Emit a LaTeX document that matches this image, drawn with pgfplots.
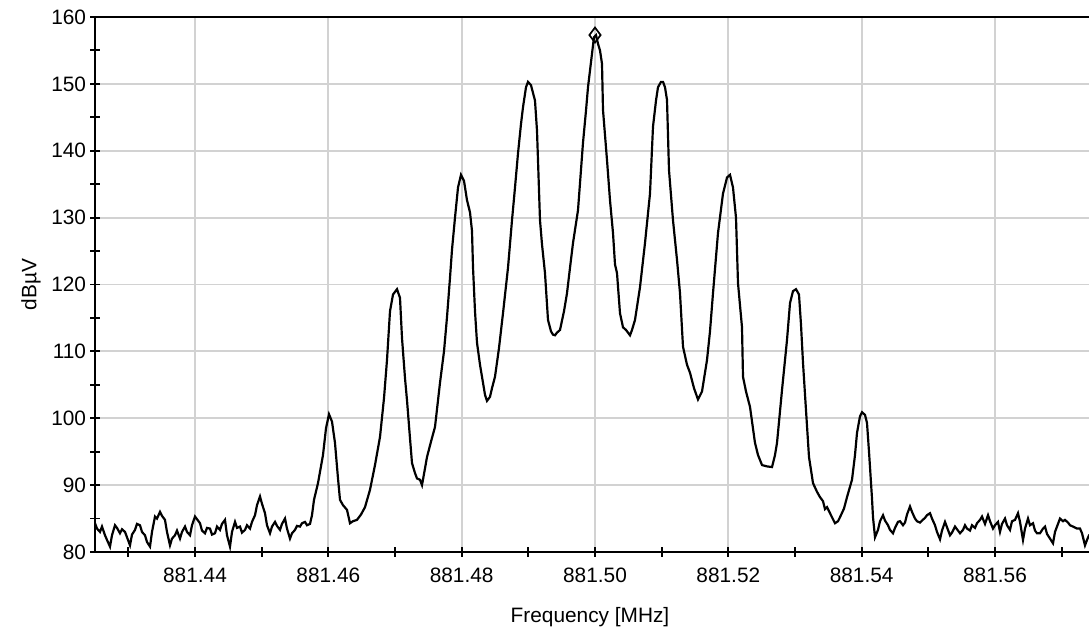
\documentclass[border=0pt]{standalone}
\usepackage{fontspec}
\setmainfont{Liberation Sans}
\usepackage{pgfplots}
\usepackage{pgfplotstable}
\pgfplotsset{compat=1.18}

% Spectrum trace: offset from 881.50 MHz in kHz, level in dBuV
\pgfplotstableread{
x y
-75.00 84.3
-74.70 83.5
-74.25 83.0
-73.95 83.8
-73.50 82.5
-73.20 81.8
-72.75 80.8
-72.45 82.5
-72.00 84.0
-71.70 83.6
-71.25 82.8
-70.95 83.4
-70.50 83.0
-70.20 82.2
-69.75 81.0
-69.45 82.6
-69.00 83.3
-68.70 84.2
-68.25 84.0
-67.95 83.0
-67.50 82.5
-67.20 81.5
-66.75 80.8
-66.45 83.0
-66.00 85.3
-65.70 85.0
-65.25 86.0
-64.95 85.4
-64.50 84.8
-64.20 83.0
-63.75 81.0
-63.45 82.0
-63.00 82.5
-62.70 83.2
-62.25 82.0
-61.95 83.0
-61.50 83.8
-61.20 83.0
-60.75 82.5
-60.45 84.0
-60.00 85.3
-59.70 84.9
-59.25 84.3
-58.95 83.2
-58.50 82.8
-58.20 83.6
-57.75 83.5
-57.45 82.6
-57.00 82.8
-56.70 83.8
-56.25 83.3
-55.95 84.2
-55.50 84.8
-55.20 82.5
-54.75 80.8
-54.45 83.0
-54.00 84.5
-53.70 83.6
-53.25 83.8
-52.95 82.9
-52.50 83.3
-52.20 84.0
-51.75 83.5
-51.45 84.5
-51.00 85.5
-50.70 87.0
-50.25 88.3
-49.95 87.2
-49.50 85.8
-49.20 84.0
-48.75 82.8
-48.45 83.8
-48.00 84.5
-47.70 83.9
-47.25 83.3
-46.95 84.2
-46.50 85.0
-46.20 83.5
-45.75 82.0
-45.45 82.8
-45.00 83.3
-44.70 83.9
-44.25 83.8
-43.95 84.3
-43.50 84.5
-43.20 84.0
-42.75 84.2
-42.45 85.5
-42.15 87.8
-41.55 90.3
-40.80 94.5
-40.35 98.5
-39.90 100.6
-39.45 99.5
-39.00 96.3
-38.55 91.0
-38.25 87.8
-37.80 87.0
-37.20 86.3
-36.75 84.3
-36.30 84.6
-35.70 84.8
-35.10 85.6
-34.50 86.7
-33.75 89.3
-33.00 93.0
-32.25 97.2
-31.65 103.0
-31.20 108.7
-30.75 116.0
-30.30 118.5
-29.70 119.3
-29.25 118.0
-28.95 112.0
-28.50 106.0
-28.20 102.7
-27.75 97.0
-27.45 93.3
-27.00 91.8
-26.70 91.0
-26.25 90.8
-25.95 90.0
-25.50 92.5
-25.20 94.2
-24.60 96.5
-24.00 98.7
-23.25 105.3
-22.65 110.0
-22.20 115.1
-21.75 121.0
-21.45 125.2
-21.00 130.0
-20.55 134.5
-20.10 136.4
-19.65 135.5
-19.20 132.6
-18.75 130.8
-18.45 128.0
-18.30 122.6
-18.00 116.0
-17.70 111.3
-17.25 108.0
-16.95 106.2
-16.50 103.5
-16.20 102.6
-15.75 103.2
-15.45 104.5
-15.00 106.2
-14.40 110.5
-13.80 115.7
-13.05 122.5
-12.45 129.6
-12.00 134.5
-11.55 139.6
-11.10 144.0
-10.80 146.5
-10.35 149.5
-10.05 150.3
-9.60 149.8
-9.00 147.5
-8.70 143.0
-8.55 138.6
-8.25 129.6
-7.95 126.0
-7.50 121.7
-7.05 114.7
-6.60 113.0
-6.30 112.5
-6.00 112.4
-5.70 112.8
-5.25 113.2
-4.65 116.0
-4.20 118.7
-3.75 122.5
-3.30 126.2
-2.55 131.1
-1.80 141.2
-1.35 146.0
-1.05 149.5
-0.75 152.0
-0.45 154.5
-0.15 157.0
0.15 157.3
0.45 156.0
0.75 155.0
1.05 153.0
1.20 146.1
1.80 138.6
2.25 132.6
2.70 127.7
3.00 123.0
3.30 121.7
3.75 115.7
4.20 113.6
4.65 113.2
4.95 112.8
5.25 112.4
5.55 113.2
6.00 114.7
6.75 119.6
7.50 126.2
8.25 133.6
8.70 143.6
9.15 147.5
9.45 149.5
9.90 150.3
10.20 150.3
10.50 149.5
10.80 147.6
11.10 137.1
11.70 129.6
12.30 123.7
12.75 118.7
13.20 110.7
13.80 108.0
14.25 106.8
14.85 104.5
15.45 102.8
16.05 104.0
16.80 108.7
17.25 113.0
17.70 118.7
18.45 127.7
19.20 133.6
19.80 136.0
20.25 136.4
20.70 134.5
21.15 130.0
21.45 120.2
22.05 113.6
22.20 106.2
22.65 104.0
23.25 101.7
24.00 96.3
24.45 94.5
25.05 93.0
25.80 92.8
26.55 92.7
27.00 94.5
27.30 96.3
28.05 104.2
28.80 111.7
29.25 117.2
29.70 119.0
30.15 119.3
30.60 118.5
30.90 114.0
31.20 108.3
31.65 101.2
32.10 94.2
32.70 90.3
33.30 89.0
33.75 88.2
34.20 87.6
34.50 86.4
34.80 86.7
35.25 85.8
35.55 85.2
36.00 84.3
36.45 84.6
36.75 85.2
37.35 86.5
37.80 88.2
38.55 90.8
39.00 94.5
39.30 97.8
39.75 100.3
40.05 100.9
40.50 100.5
40.80 99.3
41.10 95.0
41.25 92.7
41.55 88.0
41.70 85.2
42.00 82.2
42.45 83.3
42.75 84.6
43.20 85.5
43.50 84.7
43.95 84.0
44.25 83.3
44.70 82.8
45.00 83.6
45.45 84.5
45.75 84.6
46.20 84.0
46.50 84.4
46.80 85.6
47.25 86.8
47.55 86.0
48.00 85.0
48.30 84.6
48.75 84.4
49.05 84.7
49.50 85.1
49.80 85.5
50.25 85.8
50.55 85.0
51.00 84.0
51.30 83.0
51.75 81.9
52.05 83.2
52.50 84.5
52.80 83.7
53.25 82.5
53.55 82.9
54.00 83.8
54.30 83.4
54.75 82.8
55.20 83.3
55.50 84.0
55.80 83.5
56.25 83.2
56.55 84.0
57.00 83.6
57.30 84.3
57.75 84.8
58.05 85.3
58.50 84.2
58.95 85.5
59.25 84.6
59.70 83.5
60.00 84.0
60.45 84.5
60.75 83.0
61.05 84.2
61.50 85.0
61.80 84.0
62.25 83.3
62.55 84.6
63.00 84.8
63.45 85.8
63.75 84.5
64.20 81.8
64.50 83.5
64.95 85.0
65.25 84.0
65.70 84.3
66.00 83.2
66.30 82.8
66.75 82.8
67.20 83.5
67.50 83.8
67.80 82.7
68.25 82.0
68.70 81.3
69.00 83.0
69.45 84.2
69.75 85.0
70.20 84.6
70.50 84.8
70.95 84.4
71.25 84.0
71.70 83.8
72.30 83.5
72.75 83.5
73.05 82.8
73.50 81.0
73.80 81.8
74.10 82.5
75.00 83.0
}\spectrum

\begin{document}
\begin{tikzpicture}
\begin{axis}[
  scale only axis,
  width=480pt, height=256.8pt,
  xmin=-75, xmax=75, ymin=80, ymax=160,
  xtick={-60,-40,-20,0,20,40,60},
  xticklabels={881.44,881.46,881.48,881.50,881.52,881.54,881.56},
  minor xtick={-70,-50,-30,-10,10,30,50,70},
  ytick={80,90,...,160},
  minor ytick={85,95,...,155},
  xtick pos=bottom, ytick pos=left,
  tick align=center,
  major tick length=4.5pt, minor tick length=4.5pt,
  every tick/.style={black, line width=0.9pt},
  grid=major,
  major grid style={gray!35, line width=0.9pt},
  axis line style={black, line width=1.1pt},
  /pgf/number format/assume math mode=true,
  tick label style={font=\normalsize},
  xticklabel style={yshift=-2pt},
  yticklabel style={xshift=1.5pt},
  xlabel={Frequency [MHz]},
  ylabel={dBµV},
  xlabel style={at={(axis description cs:0.495,-0.1215)}, anchor=center},
  ylabel style={at={(axis description cs:-0.064,0.5)}, anchor=center},
]
\addplot[black, line width=1.05pt, mark=none] table[x=x, y=y] {\spectrum};
\addplot[only marks, mark=diamond, mark size=3.6pt,
  mark options={fill=white, draw=black, line width=0.8pt}] coordinates {(0,157.3)};
\end{axis}
\pgfresetboundingbox
\path[use as bounding box] ([shift={(-45.6pt,-40.32pt)}]current axis.south west)
  rectangle ([shift={(-2.88pt,8.16pt)}]current axis.north east);
\end{tikzpicture}
\end{document}
